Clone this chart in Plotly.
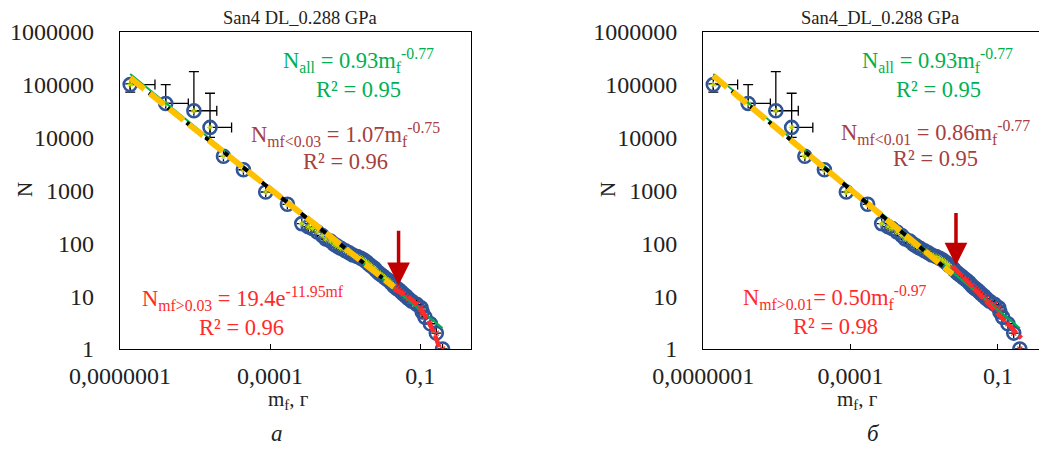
import numpy as np
import plotly.graph_objects as go

# ---------------- data ----------------
mass_g = [1.6e-7, 8.2e-7, 3.0e-6, 6.3e-6, 1.17e-5, 2.93e-5, 8.18e-5, 2.22e-4,
          4.3e-4, 5.8e-4, 7.0e-4, 8.8e-4, 1.1e-3, 1.3e-3, 1.6e-3, 1.9e-3,
          2.2e-3, 2.6e-3, 3.2e-3, 3.8e-3, 4.5e-3, 5.5e-3, 6.5e-3, 7.5e-3,
          8.5e-3, 9.5e-3, 1.05e-2, 1.2e-2, 1.3e-2, 1.45e-2, 1.6e-2, 1.8e-2,
          2.0e-2, 2.3e-2, 2.6e-2, 2.9e-2, 3.1e-2, 3.4e-2, 3.8e-2, 4.2e-2,
          4.6e-2, 5.2e-2, 5.8e-2, 6.8e-2, 8.5e-2, 0.104, 0.11, 0.125,
          0.16, 0.21, 0.28]
count_n = [100000, 44000, 32000, 15500, 4400, 2450, 930, 545,
           235, 205, 190, 163, 140, 120, 110, 96,
           88, 80, 72, 66, 60, 56, 52, 48,
           44, 40, 37, 34, 31, 28, 26, 24,
           22, 20, 18, 16, 15, 14, 13, 12,
           11, 10, 9, 8, 7, 6, 5, 4,
           3, 2, 1]
err_m_plus = [3.4e-7, 1.5e-6, 5.6e-6, 1.07e-5]
err_n_plus = [3000, 56000, 144000, 53000]
err_n_minus = [28000, 0, 0, 5500]

# fits shown on the charts: N = a*m^b (power) or N = a*exp(b*m)
fit_all = [0.93, -0.77]
left_small_fit = [1.07, -0.75]
left_large_fit = [19.4, -11.95]
right_small_fit = [0.86, -0.77]
right_large_fit = [0.50, -0.97]
left_split = 0.03
right_split = 0.012
fit_start = 1.6e-7
fit_end = 0.28
left_red_end = 0.25
right_red_end = 0.3

xtick_vals = [1e-7, 1e-4, 1e-1]
xtick_text = ["0,0000001", "0,0001", "0,1"]
ytick_vals = [1, 10, 100, 1000, 10000, 100000, 1000000]
ytick_text = ["1", "10", "100", "1000", "10000", "100000", "1000000"]

SERIF = "Liberation Serif"
BLUE = "#2F5597"
GREEN = "#00B050"
ORANGE = "#FFC000"
BROWN = "#A5403E"
RED = "#FF2A2A"
DARKRED = "#C00000"

# page body has an 8px margin: figure is drawn 8px right/down
W, H = 1039, 444
OFF = 8


def px(xr):
    return (xr - OFF) / W


def py(yr):
    return 1 - (yr - OFF) / H


m = np.array(mass_g)
n = np.array(count_n)

fig = go.Figure()


def power(a, b, x):
    x = np.asarray(x, dtype=float)
    return a * x ** b


def add_panel(xa, ya, split, small_fit, large_fit, large_kind, red_end):
    fig.add_trace(go.Scatter(
        x=m, y=n, mode="markers", xaxis=xa, yaxis=ya, showlegend=False,
        marker=dict(symbol="circle-open", size=13, color=BLUE, line=dict(width=2.6, color=BLUE)),
        error_x=dict(type="data", array=err_m_plus + [0] * (len(m) - 4), arrayminus=[0] * len(m),
                     color="black", thickness=1.3, width=5),
        error_y=dict(type="data", array=err_n_plus + [0] * (len(m) - 4),
                     arrayminus=err_n_minus + [0] * (len(m) - 4),
                     color="black", thickness=1.3, width=5),
    ))
    small = m < split
    fig.add_trace(go.Scatter(
        x=m[small], y=n[small], mode="markers", xaxis=xa, yaxis=ya, showlegend=False,
        marker=dict(symbol="asterisk-open", size=5, color="#C8E000", line=dict(width=1, color="#B5D400")),
    ))
    fig.add_trace(go.Scatter(
        x=m[~small], y=n[~small], mode="markers", xaxis=xa, yaxis=ya, showlegend=False,
        marker=dict(symbol="x-thin-open", size=5, color=RED, line=dict(width=1.2, color=RED)),
    ))
    xa_all = [fit_start, fit_end]
    fig.add_trace(go.Scatter(x=xa_all, y=power(*fit_all, xa_all), mode="lines", xaxis=xa, yaxis=ya,
                             showlegend=False, line=dict(color=GREEN, width=2)))
    xs = [fit_start, split]
    fig.add_trace(go.Scatter(x=xs, y=power(*small_fit, xs), mode="lines", xaxis=xa, yaxis=ya,
                             showlegend=False, line=dict(color="black", width=4, dash="10px,14px")))
    fig.add_trace(go.Scatter(x=xs, y=power(*small_fit, xs), mode="lines", xaxis=xa, yaxis=ya,
                             showlegend=False, line=dict(color=ORANGE, width=6, dash="18px,7px")))
    xr = np.geomspace(split, red_end, 30)
    if large_kind == "exp":
        yr = large_fit[0] * np.exp(large_fit[1] * xr)
    else:
        yr = power(*large_fit, xr)
    fig.add_trace(go.Scatter(x=xr, y=yr, mode="lines", xaxis=xa, yaxis=ya,
                             showlegend=False, line=dict(color=RED, width=4.5, dash="12px,4px")))


add_panel("x", "y", left_split, left_small_fit, left_large_fit, "exp", left_red_end)
add_panel("x2", "y2", right_split, right_small_fit, right_large_fit, "pow", right_red_end)

ydom = [py(349), py(31.7)]
axis_common = dict(type="log", showgrid=False, zeroline=False, linecolor="black", linewidth=1.3,
                   tickfont=dict(family=SERIF, size=24, color="#222"))
fig.update_layout(
    width=W, height=H, margin=dict(l=0, r=0, t=0, b=0, autoexpand=False),
    paper_bgcolor="white", plot_bgcolor="white",
    xaxis=dict(axis_common, domain=[px(120), px(470.7)], range=[-7, 0.01], anchor="y",
               tickvals=xtick_vals, ticktext=xtick_text, ticks="inside", ticklen=5,
               tickcolor="black", mirror=True, ticklabelstandoff=5),
    yaxis=dict(axis_common, domain=ydom, range=[0, 6], anchor="x",
               tickvals=ytick_vals, ticktext=ytick_text, ticks="", mirror=True,
               ticklabelstandoff=20),
    yaxis3=dict(type="log", domain=ydom, range=[0, 6], overlaying="y", anchor="x", side="right",
                showgrid=False, zeroline=False, showline=False, tickvals=ytick_vals,
                showticklabels=False, ticks="inside", ticklen=6, tickcolor="black"),
    xaxis2=dict(axis_common, domain=[px(703.3), 1.0], range=[-7, 0.0], anchor="y2",
                tickvals=xtick_vals, ticktext=xtick_text, ticks="inside", ticklen=5,
                tickcolor="black", mirror=True, ticklabelstandoff=5),
    yaxis2=dict(axis_common, domain=ydom, range=[0, 6], anchor="x2",
                tickvals=ytick_vals, ticktext=ytick_text, ticks="", mirror=False,
                ticklabelstandoff=20),
    yaxis4=dict(type="log", domain=ydom, range=[0, 6], overlaying="y2", anchor="x2", side="right",
                showgrid=False, zeroline=False, showline=False, tickvals=ytick_vals,
                showticklabels=False, ticks="inside", ticklen=6, tickcolor="black"),
)


def ann(text, x, y, color, size=23, xref="x", yref="y", **kw):
    fig.add_annotation(text=text, x=x, y=y, xref=xref, yref=yref, showarrow=False,
                       font=dict(family=SERIF, size=size, color=color), xanchor="center",
                       yanchor="middle", **kw)


# left panel texts
ann("N<sub>all</sub> = 0.93m<sub>f</sub><sup>-0.77</sup>", -2.24, 5.45, GREEN, size=22.5)
ann("R² = 0.95", -2.24, 4.90, GREEN, size=22.5)
ann("N<sub>mf<0.03</sub> = 1.07m<sub>f</sub><sup>-0.75</sup>", -2.5, 4.06, BROWN, size=22.5)
ann("R² = 0.96", -2.5, 3.55, BROWN, size=22.5)
ann("N<sub>mf>0.03</sub> = 19.4e<sup>-11.95mf</sup>", -4.55, 0.96, RED, size=22.5)
ann("R² = 0.96", -4.57, 0.41, RED, size=22.5)
# right panel texts
ann("N<sub>all</sub> = 0.93m<sub>f</sub><sup>-0.77</sup>", -2.24, 5.45, GREEN, size=22.5, xref="x2", yref="y2")
ann("R² = 0.95", -2.21, 4.90, GREEN, size=22.5, xref="x2", yref="y2")
ann("N<sub>mf<0.01</sub> = 0.86m<sub>f</sub><sup>-0.77</sup>", -2.27, 4.10, BROWN, size=22.5, xref="x2", yref="y2")
ann("R² = 0.95", -2.27, 3.60, BROWN, size=22.5, xref="x2", yref="y2")
ann("N<sub>mf>0.01</sub>= 0.50m<sub>f</sub><sup>-0.97</sup>", -4.31, 0.98, RED, size=22.5, xref="x2", yref="y2")
ann("R² = 0.98", -4.31, 0.42, RED, size=22.5, xref="x2", yref="y2")

# arrows marking the split
fig.add_annotation(x=np.log10(0.037), y=np.log10(16), xref="x", yref="y", ax=0, ay=-56,
                   showarrow=True, arrowhead=2, arrowsize=1.3, arrowwidth=3.5, arrowcolor=DARKRED, text="")
fig.add_annotation(x=np.log10(0.014), y=np.log10(38), xref="x2", yref="y2", ax=0, ay=-54,
                   showarrow=True, arrowhead=2, arrowsize=1.3, arrowwidth=3.5, arrowcolor=DARKRED, text="")

# titles, axis titles, panel letters
ann("San4 DL_0.288 GPa", px(300), py(18), "#222", size=18.5, xref="paper", yref="paper")
ann("San4_DL_0.288 GPa", px(880), py(18), "#222", size=18.5, xref="paper", yref="paper")
ann("N", px(25), py(190), "#222", size=21, xref="paper", yref="paper", textangle=-90)
ann("N", px(608), py(190), "#222", size=21, xref="paper", yref="paper", textangle=-90)
ann("m<sub>f</sub>, г", px(288), py(400), "#222", size=21, xref="paper", yref="paper")
ann("m<sub>f</sub>, г", px(857), py(400), "#222", size=21, xref="paper", yref="paper")
ann("<i>а</i>", px(277), py(433), "#222", size=23, xref="paper", yref="paper")
ann("<i>б</i>", px(873), py(433), "#222", size=23, xref="paper", yref="paper")

fig.write_html("out.html")
